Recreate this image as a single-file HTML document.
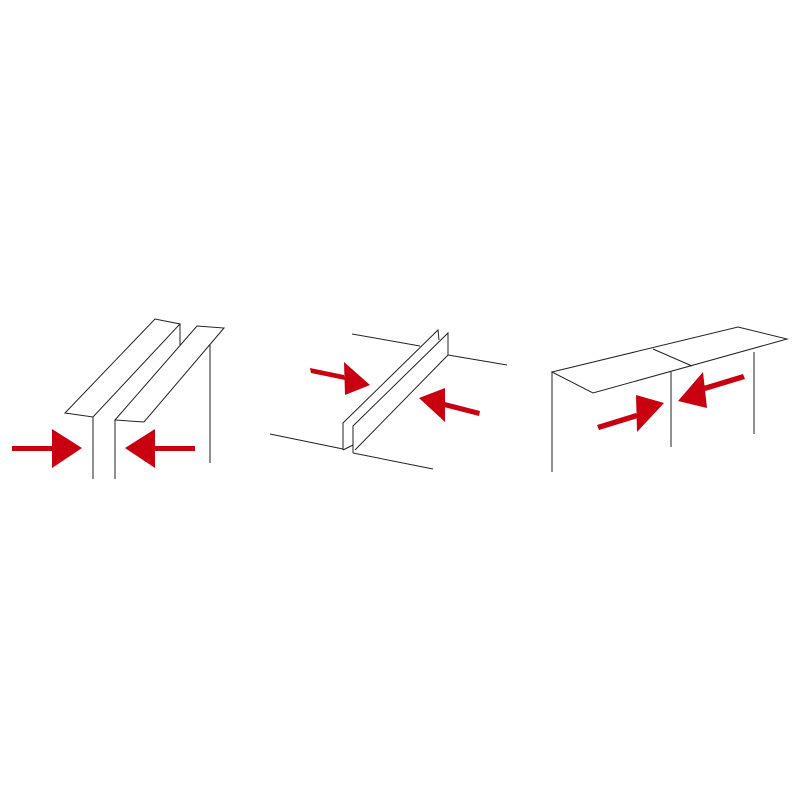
<!DOCTYPE html>
<html><head><style>html,body{margin:0;padding:0;background:#fff;width:800px;height:800px;overflow:hidden}</style></head>
<body>
<svg width="800" height="800" viewBox="0 0 800 800" xmlns="http://www.w3.org/2000/svg">
<g fill="none" stroke="#222" stroke-width="1">
<polygon points="65,413 155,319 180,324 93,417"/>
<line x1="93" y1="417" x2="93" y2="479"/>
<line x1="180" y1="324" x2="180" y2="345"/>
<polygon points="115,420 197,326 224,328 144,422"/>
<line x1="115" y1="420" x2="115" y2="479"/>
<line x1="210" y1="345" x2="210" y2="463"/>
<line x1="352" y1="334" x2="420" y2="346"/>
<line x1="448" y1="355" x2="507" y2="365"/>
<line x1="270" y1="434" x2="343" y2="449"/>
<line x1="353" y1="453" x2="433" y2="469"/>
<polyline points="343,450 343,423 438,330 439,340"/>
<polyline points="353,453 353,426 448,333 448,355 355,450"/>
<line x1="343" y1="450" x2="353" y2="445"/>
<polygon points="552,372 738,327 787,339 593,393"/>
<line x1="653" y1="349" x2="692" y2="366"/>
<line x1="552" y1="372" x2="552" y2="472"/>
<line x1="671" y1="372" x2="671" y2="447"/>
<line x1="754" y1="352" x2="754" y2="434"/>
</g>
<g fill="#c8000f" stroke="none">
<rect x="12" y="446" width="42" height="5"/>
<polygon points="52,429 52,468 82,448"/>
<rect x="153" y="446" width="42" height="5"/>
<polygon points="155,429 155,468 125,448"/>
<polygon points="310,368 311,373 345,380 344,375"/>
<polygon points="344,362 345,395 370,385"/>
<polygon points="441,401 440,406 479,416 480,411"/>
<polygon points="445,388 445,422 419,398"/>
<polygon points="597,425 599,430 638,418 636,413"/>
<polygon points="636,395 637,432 664,403"/>
<polygon points="700,387 702,392 745,379 743,374"/>
<polygon points="703,372 707,408 678,401"/>
</g>
</svg>
</body></html>
